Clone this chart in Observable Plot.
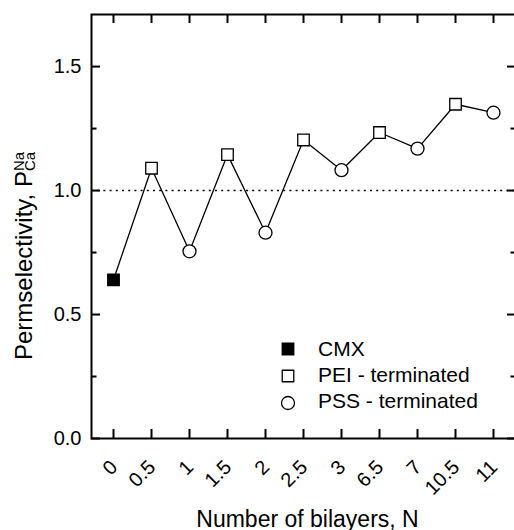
<!DOCTYPE html>
<html>
<head>
<meta charset="utf-8">
<script src="https://cdn.jsdelivr.net/npm/d3@7"></script>
<script src="https://cdn.jsdelivr.net/npm/@observablehq/plot@0.6"></script>
<style>
  html, body { margin: 0; padding: 0; background: white; overflow: hidden; }
</style>
</head>
<body>
<div id="chart"></div>
<script>
// ---- data ----
const nLabels = ["0", "0.5", "1", "1.5", "2", "2.5", "3", "6.5", "7", "10.5", "11"];
const selectivity = [0.64, 1.09, 0.755, 1.145, 0.83, 1.204, 1.082, 1.234, 1.169, 1.348, 1.314];
const seriesType = ["CMX", "PEI", "PSS", "PEI", "PSS", "PEI", "PSS", "PEI", "PSS", "PEI", "PSS"];
const yMajorTicks = [0, 0.5, 1.0, 1.5];
const yMinorTicks = [0.25, 0.75, 1.25];
const legendKeys = ["CMX", "PEI", "PSS"];
const legendLabels = ["CMX", "PEI - terminated", "PSS - terminated"];
const referenceLine = [1.0];

const rows = nLabels.map((n, i) => ({n, p: selectivity[i], type: seriesType[i]}));

const W = 514, H = 530;
const mL = 91, mR = -1, mT = 14, mB = 92;
const fw = W - mL - mR, fh = H - mT - mB;
const symbolOf = {CMX: "square", PEI: "square", PSS: "circle"};
const fillOf = {CMX: "black", PEI: "white", PSS: "white"};
const FONT = "'Liberation Sans', Arial, Helvetica, sans-serif";

const chart = Plot.plot({
  width: W, height: H,
  marginTop: mT, marginBottom: mB, marginLeft: mL, marginRight: mR,
  style: {fontFamily: FONT, fontSize: "20px", background: "white", color: "black"},
  x: {type: "point", domain: nLabels, padding: 0.5, axis: null},
  y: {domain: [0, 1.71], axis: null},
  marks: [
    Plot.ruleY(referenceLine, {stroke: "black", strokeWidth: 1.6, strokeDasharray: "2,4.2"}),
    Plot.line(rows, {x: "n", y: "p", stroke: "black", strokeWidth: 1.3}),
    Plot.dot(rows, {x: "n", y: "p", r: 6.5, symbol: d => symbolOf[d.type], fill: d => fillOf[d.type], stroke: "black", strokeWidth: 1.3}),
    Plot.frame({stroke: "black", strokeWidth: 2}),
    // left ticks (inward)
    Plot.tickY(yMajorTicks, {y: d => d, insetRight: fw - 9, stroke: "black", strokeWidth: 2}),
    Plot.tickY(yMinorTicks, {y: d => d, insetRight: fw - 5.5, stroke: "black", strokeWidth: 2}),
    // right ticks (inward)
    Plot.tickY(yMajorTicks, {y: d => d, insetLeft: fw - 8, stroke: "black", strokeWidth: 2}),
    Plot.tickY(yMinorTicks, {y: d => d, insetLeft: fw - 4.5, stroke: "black", strokeWidth: 2}),
    // bottom and top ticks (inward)
    Plot.tickX(nLabels, {x: d => d, insetTop: fh - 9, stroke: "black", strokeWidth: 2}),
    Plot.tickX(nLabels, {x: d => d, insetBottom: fh - 9, stroke: "black", strokeWidth: 2}),
    // y tick labels
    Plot.axisY(yMajorTicks, {tickSize: 0, tickPadding: 10, tickFormat: d => d.toFixed(1), fontSize: 20, label: null}),
    // x tick labels, rotated
    Plot.text(nLabels, {x: d => d, frameAnchor: "bottom", text: d => d, rotate: -45, textAnchor: "end", lineAnchor: "bottom", dx: 5, dy: 30, fontSize: 20, fill: "black"}),
    // x axis title
    Plot.text(["Number of bilayers, N"], {frameAnchor: "bottom", text: d => d, dx: 4, dy: 88, lineAnchor: "bottom", fontSize: 23, fill: "black"})
  ]
});

document.getElementById("chart").appendChild(chart);
const svg = d3.select(chart);

// y-axis title with super/subscript
const yt = svg.append("text")
  .attr("transform", "translate(32,360) rotate(-90)")
  .attr("font-family", FONT)
  .attr("font-size", 24)
  .attr("fill", "black")
  .attr("text-anchor", "start");
yt.append("tspan").text("Permselectivity, P");
const sup = yt.append("tspan").attr("font-size", 15).attr("dy", -8).text("Na");
const supW = sup.node().getComputedTextLength();
yt.append("tspan").attr("font-size", 15).attr("dx", -supW).attr("dy", 11).text("Ca");

// legend
const legendG = svg.append("g")
  .attr("font-family", FONT)
  .attr("font-size", 21)
  .attr("text-anchor", "start");
const rowMarkerY = [349, 376, 403];
const rowTextY = [356, 382, 408];
legendKeys.forEach((k, i) => {
  const sym = k === "PSS" ? d3.symbolCircle : d3.symbolSquare;
  legendG.append("path")
    .attr("d", d3.symbol(sym, 6.5 * 6.5 * Math.PI)())
    .attr("transform", `translate(288,${rowMarkerY[i]})`)
    .attr("fill", fillOf[k])
    .attr("stroke", "black")
    .attr("stroke-width", 1.3);
  legendG.append("text")
    .attr("x", 318).attr("y", rowTextY[i])
    .attr("fill", "black")
    .attr("text-anchor", "start")
    .text(legendLabels[i]);
});
</script>
</body>
</html>
